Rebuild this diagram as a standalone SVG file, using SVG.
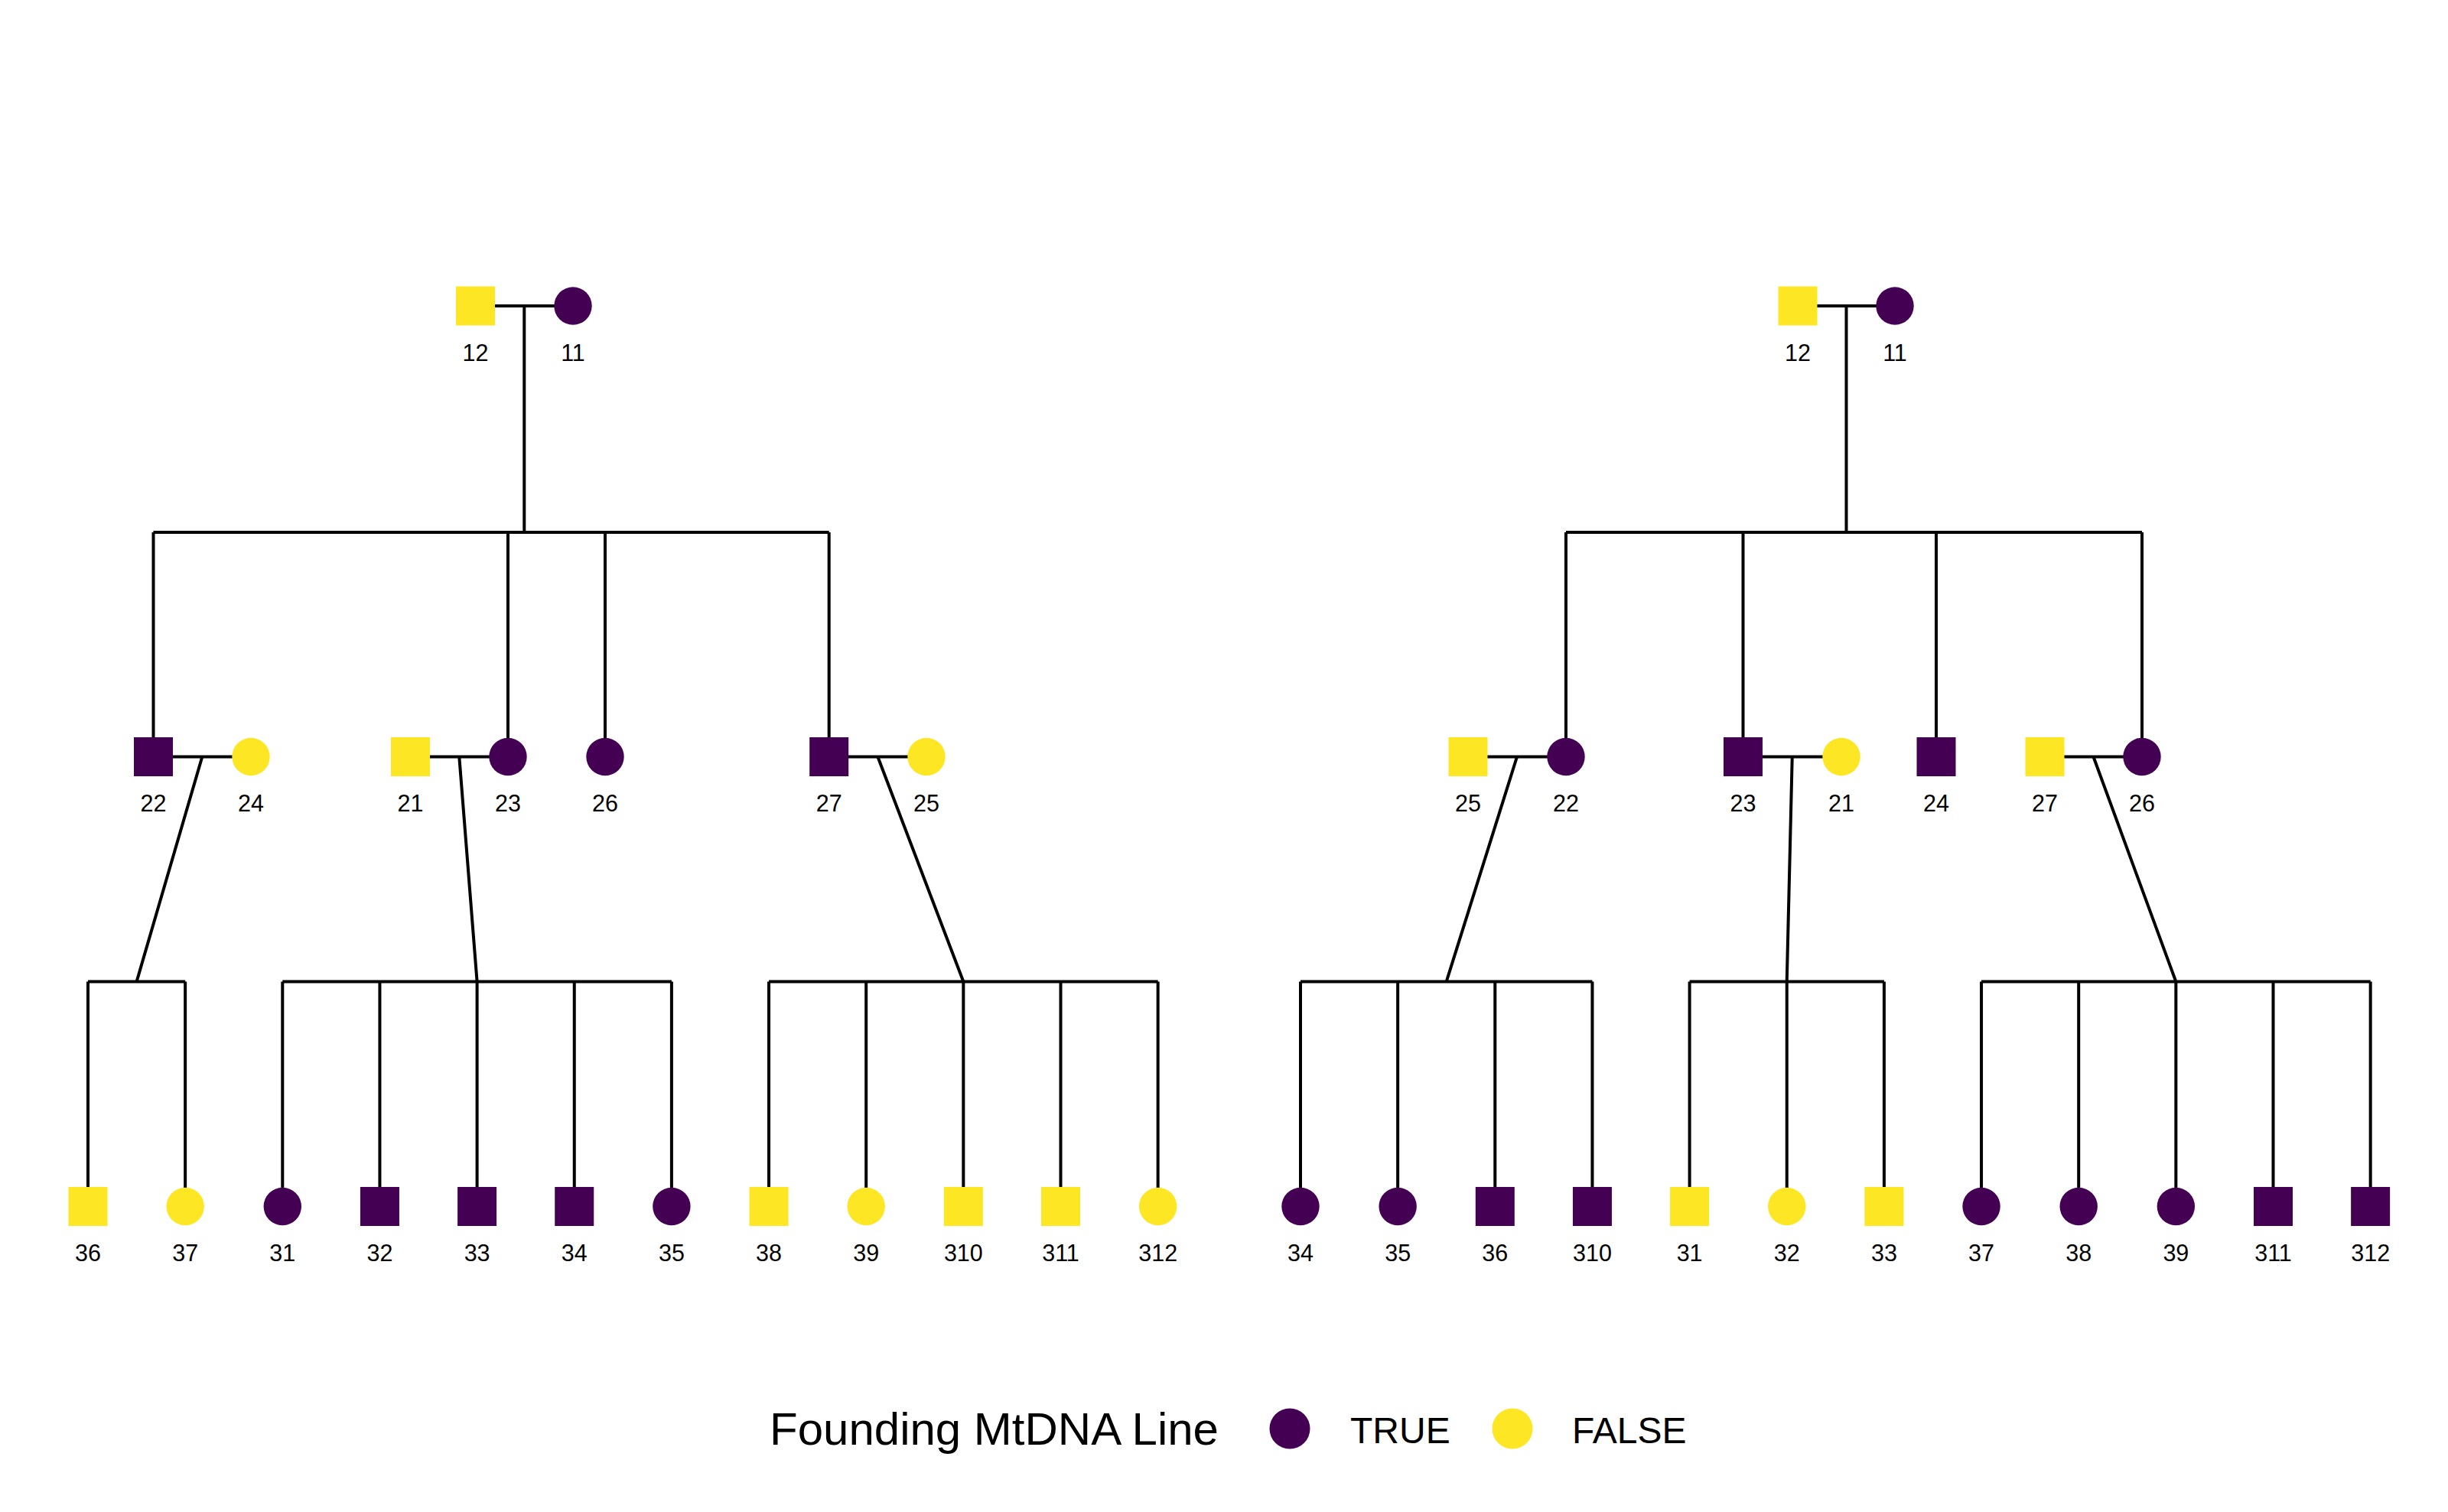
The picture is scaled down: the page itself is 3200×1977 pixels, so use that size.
<svg xmlns="http://www.w3.org/2000/svg" width="3200" height="1977" viewBox="0 0 3200 1977">
<style>
.bg{fill:#ffffff}
.ln{stroke:#000000;stroke-width:4;fill:none;stroke-linecap:butt}
.t{fill:#440154}
.f{fill:#FDE725}
.lb{font-family:"Liberation Sans",Arial,sans-serif;font-size:30.5px;fill:#000000;text-anchor:middle}
.lg{font-family:"Liberation Sans",Arial,sans-serif;fill:#000000}
</style>
<defs>
<rect id="sq" x="-25.5" y="-25.5" width="51" height="51"/>
<circle id="ci" cx="0" cy="0" r="24.7"/>
</defs>
<rect class="bg" x="0" y="0" width="3200" height="1977"/>
<g id="connectors" class="ln">
<!-- left tree -->
<path d="M621.5 400H749M685.3 400V696"/>
<path d="M200.5 696H1083.7M200.5 696V989.5M664 696V989.5M791 696V989.5M1083.7 696V989.5"/>
<path d="M200.5 989.5H328M536.5 989.5H664M1083.7 989.5H1211"/>
<path d="M264.3 989.5L178.6 1283.5M600.3 989.5L623.6 1283.5M1147.4 989.5L1259.35 1283.5"/>
<path d="M115 1283.5H242.15M115 1283.5V1577.5M242.15 1283.5V1577.5"/>
<path d="M369.3 1283.5H877.9M369.3 1283.5V1577.5M496.45 1283.5V1577.5M623.6 1283.5V1577.5M750.75 1283.5V1577.5M877.9 1283.5V1577.5"/>
<path d="M1005.05 1283.5H1513.65M1005.05 1283.5V1577.5M1132.2 1283.5V1577.5M1259.35 1283.5V1577.5M1386.5 1283.5V1577.5M1513.65 1283.5V1577.5"/>
<!-- right tree -->
<path d="M2350 400H2477M2413.5 400V696"/>
<path d="M2047 696H2800M2047 696V989.5M2278.5 696V989.5M2531 696V989.5M2800 696V989.5"/>
<path d="M1919 989.5H2047M2278.5 989.5H2407M2673 989.5H2800"/>
<path d="M1983 989.5L1890.7 1283.5M2342.75 989.5L2335.75 1283.5M2736.5 989.5L2844.35 1283.5"/>
<path d="M1700 1283.5H2081.45M1700 1283.5V1577.5M1827.15 1283.5V1577.5M1954.3 1283.5V1577.5M2081.45 1283.5V1577.5"/>
<path d="M2208.6 1283.5H2462.9M2208.6 1283.5V1577.5M2335.75 1283.5V1577.5M2462.9 1283.5V1577.5"/>
<path d="M2590.05 1283.5H3098.65M2590.05 1283.5V1577.5M2717.2 1283.5V1577.5M2844.35 1283.5V1577.5M2971.5 1283.5V1577.5M3098.65 1283.5V1577.5"/>
</g>
<g id="left-tree">
<g id="L12"><use href="#sq" class="f" x="621.5" y="400"/><text class="lb" x="621.5" y="471.5">12</text></g>
<g id="L11"><use href="#ci" class="t" x="749" y="400"/><text class="lb" x="749" y="471.5">11</text></g>
<g id="L22"><use href="#sq" class="t" x="200.5" y="989.5"/><text class="lb" x="200.5" y="1061">22</text></g>
<g id="L24"><use href="#ci" class="f" x="328" y="989.5"/><text class="lb" x="328" y="1061">24</text></g>
<g id="L21"><use href="#sq" class="f" x="536.5" y="989.5"/><text class="lb" x="536.5" y="1061">21</text></g>
<g id="L23"><use href="#ci" class="t" x="664" y="989.5"/><text class="lb" x="664" y="1061">23</text></g>
<g id="L26"><use href="#ci" class="t" x="791" y="989.5"/><text class="lb" x="791" y="1061">26</text></g>
<g id="L27"><use href="#sq" class="t" x="1083.7" y="989.5"/><text class="lb" x="1083.7" y="1061">27</text></g>
<g id="L25"><use href="#ci" class="f" x="1211" y="989.5"/><text class="lb" x="1211" y="1061">25</text></g>
<g id="L36"><use href="#sq" class="f" x="115" y="1577.5"/><text class="lb" x="115" y="1649">36</text></g>
<g id="L37"><use href="#ci" class="f" x="242.15" y="1577.5"/><text class="lb" x="242.15" y="1649">37</text></g>
<g id="L31"><use href="#ci" class="t" x="369.3" y="1577.5"/><text class="lb" x="369.3" y="1649">31</text></g>
<g id="L32"><use href="#sq" class="t" x="496.45" y="1577.5"/><text class="lb" x="496.45" y="1649">32</text></g>
<g id="L33"><use href="#sq" class="t" x="623.6" y="1577.5"/><text class="lb" x="623.6" y="1649">33</text></g>
<g id="L34"><use href="#sq" class="t" x="750.75" y="1577.5"/><text class="lb" x="750.75" y="1649">34</text></g>
<g id="L35"><use href="#ci" class="t" x="877.9" y="1577.5"/><text class="lb" x="877.9" y="1649">35</text></g>
<g id="L38"><use href="#sq" class="f" x="1005.05" y="1577.5"/><text class="lb" x="1005.05" y="1649">38</text></g>
<g id="L39"><use href="#ci" class="f" x="1132.2" y="1577.5"/><text class="lb" x="1132.2" y="1649">39</text></g>
<g id="L310"><use href="#sq" class="f" x="1259.35" y="1577.5"/><text class="lb" x="1259.35" y="1649">310</text></g>
<g id="L311"><use href="#sq" class="f" x="1386.5" y="1577.5"/><text class="lb" x="1386.5" y="1649">311</text></g>
<g id="L312"><use href="#ci" class="f" x="1513.65" y="1577.5"/><text class="lb" x="1513.65" y="1649">312</text></g>
</g>
<g id="right-tree">
<g id="R12"><use href="#sq" class="f" x="2350" y="400"/><text class="lb" x="2350" y="471.5">12</text></g>
<g id="R11"><use href="#ci" class="t" x="2477" y="400"/><text class="lb" x="2477" y="471.5">11</text></g>
<g id="R25"><use href="#sq" class="f" x="1919" y="989.5"/><text class="lb" x="1919" y="1061">25</text></g>
<g id="R22"><use href="#ci" class="t" x="2047" y="989.5"/><text class="lb" x="2047" y="1061">22</text></g>
<g id="R23"><use href="#sq" class="t" x="2278.5" y="989.5"/><text class="lb" x="2278.5" y="1061">23</text></g>
<g id="R21"><use href="#ci" class="f" x="2407" y="989.5"/><text class="lb" x="2407" y="1061">21</text></g>
<g id="R24"><use href="#sq" class="t" x="2531" y="989.5"/><text class="lb" x="2531" y="1061">24</text></g>
<g id="R27"><use href="#sq" class="f" x="2673" y="989.5"/><text class="lb" x="2673" y="1061">27</text></g>
<g id="R26"><use href="#ci" class="t" x="2800" y="989.5"/><text class="lb" x="2800" y="1061">26</text></g>
<g id="R34"><use href="#ci" class="t" x="1700" y="1577.5"/><text class="lb" x="1700" y="1649">34</text></g>
<g id="R35"><use href="#ci" class="t" x="1827.15" y="1577.5"/><text class="lb" x="1827.15" y="1649">35</text></g>
<g id="R36"><use href="#sq" class="t" x="1954.3" y="1577.5"/><text class="lb" x="1954.3" y="1649">36</text></g>
<g id="R310"><use href="#sq" class="t" x="2081.45" y="1577.5"/><text class="lb" x="2081.45" y="1649">310</text></g>
<g id="R31"><use href="#sq" class="f" x="2208.6" y="1577.5"/><text class="lb" x="2208.6" y="1649">31</text></g>
<g id="R32"><use href="#ci" class="f" x="2335.75" y="1577.5"/><text class="lb" x="2335.75" y="1649">32</text></g>
<g id="R33"><use href="#sq" class="f" x="2462.9" y="1577.5"/><text class="lb" x="2462.9" y="1649">33</text></g>
<g id="R37"><use href="#ci" class="t" x="2590.05" y="1577.5"/><text class="lb" x="2590.05" y="1649">37</text></g>
<g id="R38"><use href="#ci" class="t" x="2717.2" y="1577.5"/><text class="lb" x="2717.2" y="1649">38</text></g>
<g id="R39"><use href="#ci" class="t" x="2844.35" y="1577.5"/><text class="lb" x="2844.35" y="1649">39</text></g>
<g id="R311"><use href="#sq" class="t" x="2971.5" y="1577.5"/><text class="lb" x="2971.5" y="1649">311</text></g>
<g id="R312"><use href="#sq" class="t" x="3098.65" y="1577.5"/><text class="lb" x="3098.65" y="1649">312</text></g>
</g>
<g id="legend">
<text class="lg" x="1006" y="1889" font-size="60">Founding MtDNA Line</text>
<circle class="t" cx="1686" cy="1868" r="26.5"/>
<text class="lg" x="1765" y="1886.5" font-size="48">TRUE</text>
<circle class="f" cx="1977" cy="1868" r="26.5"/>
<text class="lg" x="2055" y="1886.5" font-size="48">FALSE</text>
</g>
</svg>
